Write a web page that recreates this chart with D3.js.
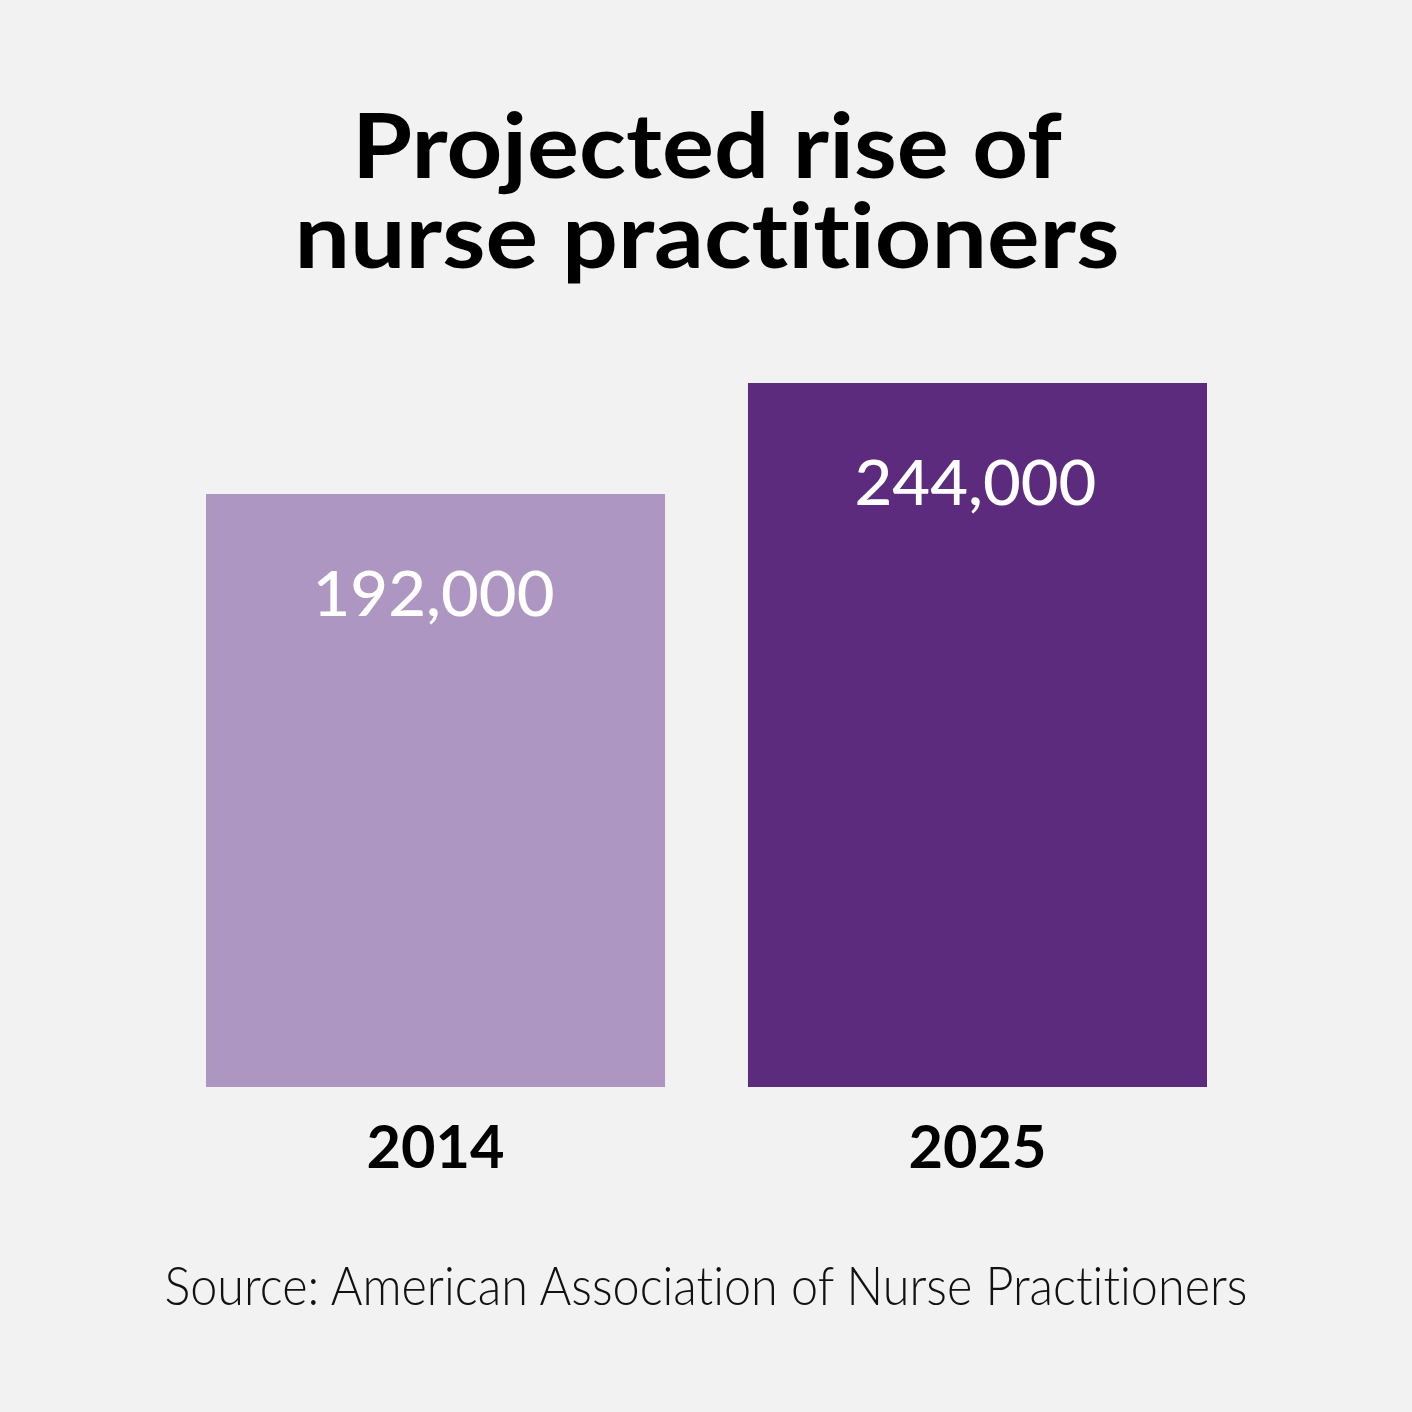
<!DOCTYPE html>
<html>
<head>
<meta charset="utf-8">
<script src="https://cdn.jsdelivr.net/npm/d3@7"></script>
<style>
  html, body { margin: 0; padding: 0; background: #f2f2f2; }
  svg { display: block; }
  text { font-variant-ligatures: none; font-feature-settings: "liga" 0, "clig" 0; }
</style>
</head>
<body>
<div id="chart"></div>
<script>
const titleLines = ["Projected rise of", "nurse practitioners"];
const categories = ["2014", "2025"];
const values = [192000, 244000];
const sourceText = "Source: American Association of Nurse Practitioners";

const W = 1412, H = 1412;
const barColors = ["#ae96c2", "#5c2b7e"];

const svg = d3.select("#chart").append("svg")
  .attr("width", W).attr("height", H);

svg.append("rect").attr("width", W).attr("height", H).attr("fill", "#f2f2f2");

const x = d3.scaleBand()
  .domain(categories)
  .range([206, 1207])
  .paddingInner(0.153)
  .paddingOuter(0);

// baseline of the chart sits at 1087 px; the visual scale is not zero-based
const y = d3.scaleLinear()
  .domain([-85800, 244000])
  .range([1087, 383]);

const fmt = d3.format(",");

// title: one text element, two lines
const titleY = [178, 268];
const titleW = [710, 825];
const title = svg.append("text")
  .attr("text-anchor", "middle")
  .attr("font-family", "Lato, 'Noto Sans', sans-serif")
  .attr("font-weight", 700)
  .attr("font-size", 89)
  .attr("fill", "#000");
titleLines.forEach((t, i) => {
  title.append("tspan")
    .attr("x", 707)
    .attr("y", titleY[i])
    .attr("textLength", titleW[i])
    .attr("lengthAdjust", "spacingAndGlyphs")
    .text(t);
});

const data = categories.map((c, i) => ({ cat: c, value: values[i], color: barColors[i] }));

// bars
svg.append("g").selectAll("rect")
  .data(data)
  .join("rect")
  .attr("x", d => x(d.cat))
  .attr("y", d => y(d.value))
  .attr("width", x.bandwidth())
  .attr("height", d => y.range()[0] - y(d.value))
  .attr("fill", d => d.color);

// value labels
svg.append("g").selectAll("text")
  .data(data)
  .join("text")
  .attr("x", d => x(d.cat) + x.bandwidth() / 2 - 2)
  .attr("y", d => y(d.value) + 122)
  .attr("text-anchor", "middle")
  .attr("font-family", "Lato, 'Noto Sans', sans-serif")
  .attr("font-weight", 500)
  .attr("font-size", 61)
  .attr("fill", "#ffffff")
  .attr("textLength", 242)
  .attr("lengthAdjust", "spacingAndGlyphs")
  .text(d => fmt(d.value));

// category labels (x axis)
svg.append("g").selectAll("text")
  .data(data)
  .join("text")
  .attr("x", d => x(d.cat) + x.bandwidth() / 2)
  .attr("y", y.range()[0] + 81)
  .attr("text-anchor", "middle")
  .attr("font-family", "Lato, 'Noto Sans', sans-serif")
  .attr("font-weight", 700)
  .attr("font-size", 60)
  .attr("fill", "#000")
  .attr("textLength", 138)
  .attr("lengthAdjust", "spacingAndGlyphs")
  .text(d => d.cat);

// source
svg.append("text")
  .attr("x", 706)
  .attr("y", 1305)
  .attr("text-anchor", "middle")
  .attr("font-family", "Lato, 'Open Sans', sans-serif")
  .attr("font-weight", 300)
  .attr("font-size", 54)
  .attr("fill", "#111")
  .attr("textLength", 1083)
  .attr("lengthAdjust", "spacingAndGlyphs")
  .text(sourceText);
</script>
</body>
</html>
